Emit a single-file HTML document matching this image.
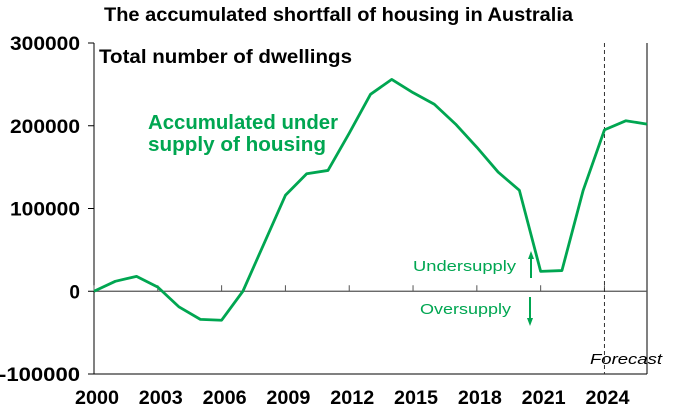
<!DOCTYPE html>
<html><head><meta charset="utf-8"><style>
body{margin:0;background:#fff;}
svg{display:block;font-family:"Liberation Sans",Arial,sans-serif;}
</style></head><body>
<svg width="677" height="412" viewBox="0 0 677 412">
<text x="104" y="21" font-size="19" font-weight="bold" fill="#000" textLength="469" lengthAdjust="spacingAndGlyphs">The accumulated shortfall of housing in Australia</text>
<g id="axes"></g>
<g id="marks"></g>
<text x="99" y="63" font-size="19" font-weight="bold" fill="#000" textLength="253" lengthAdjust="spacingAndGlyphs">Total number of dwellings</text>
<text x="148" y="129" font-size="20" font-weight="bold" fill="#00a651" textLength="190" lengthAdjust="spacingAndGlyphs">Accumulated under</text>
<text x="148" y="151" font-size="20" font-weight="bold" fill="#00a651" textLength="178" lengthAdjust="spacingAndGlyphs">supply of housing</text>
<text x="413" y="271" font-size="15" fill="#00a651" textLength="103" lengthAdjust="spacingAndGlyphs">Undersupply</text>
<text x="420" y="314" font-size="15" fill="#00a651" textLength="91" lengthAdjust="spacingAndGlyphs">Oversupply</text>
<g><line x1="531" y1="278" x2="531" y2="256" stroke="#00a651" stroke-width="2"/><path d="M528,259 L531,251 L534,259Z" fill="#00a651"/></g>
<g><line x1="530" y1="297" x2="530" y2="320" stroke="#00a651" stroke-width="2"/><path d="M527,318 L530,326 L533,318Z" fill="#00a651"/></g>
<text x="590" y="364" font-size="15" font-style="italic" fill="#000" textLength="72" lengthAdjust="spacingAndGlyphs">Forecast</text>
</svg>
<script>
const years=[2000,2001,2002,2003,2004,2005,2006,2007,2008,2009,2010,2011,2012,2013,2014,2015,2016,2017,2018,2019,2020,2021,2022,2023,2024,2025,2026];
const shortfall=[0,12000,18000,5000,-19000,-34000,-35000,0,58000,116000,142000,146000,191000,238000,256000,240000,226000,202000,174000,144000,122000,24000,25000,122000,195000,206000,202000];
const yTicks=[300000,200000,100000,0,-100000];
const xTickYears=[2000,2003,2006,2009,2012,2015,2018,2021,2024];
const forecastYear=2024;
const NS='http://www.w3.org/2000/svg';
const X0=94,X1=647,Y0=43,Y1=374,xmin=2000,xmax=2026,ymin=-100000,ymax=300000;
const xs=v=>X0+(v-xmin)/(xmax-xmin)*(X1-X0);
const ys=v=>Y1-(v-ymin)/(ymax-ymin)*(Y1-Y0);
function mk(tag,attrs,parent){const e=document.createElementNS(NS,tag);for(const k in attrs)e.setAttribute(k,attrs[k]);parent.appendChild(e);return e;}
const ax=document.getElementById('axes'),mg=document.getElementById('marks');
let l=mk('line',{x1:X0,y1:Y0,x2:X0,y2:Y1,stroke:'#000','stroke-width':1},ax);


l=mk('line',{x1:X0,y1:Y1,x2:X1,y2:Y1,stroke:'#000','stroke-width':1},ax);


l=mk('line',{x1:X1,y1:Y0,x2:X1,y2:Y1,stroke:'#000','stroke-width':1},ax);


l=mk('line',{x1:X0,y1:ys(0),x2:X1,y2:ys(0),stroke:'#555','stroke-width':1.2},ax);


yTicks.forEach(v=>{
 const tk=mk('line',{x1:X0-6,y1:ys(v),x2:X0,y2:ys(v),stroke:'#000','stroke-width':1},ax);
 
 
 const s=String(v);
 const attrs={x:X0-14,y:ys(v)+7,'text-anchor':'end','font-size':19,'font-weight':'bold'};
 if(s.length>1){attrs.textLength=s.length*11+4;attrs.lengthAdjust='spacingAndGlyphs';}
 const t=mk('text',attrs,ax);
 t.textContent=s;
 
 
});
xTickYears.forEach(v=>{
 const tk=mk('line',{x1:xs(v),y1:ys(0),x2:xs(v),y2:ys(0)-6,stroke:'#555','stroke-width':1},ax);
 
 
 const t=mk('text',{x:xs(v)+3,y:404,'text-anchor':'middle','font-size':19,'font-weight':'bold',textLength:44,lengthAdjust:'spacingAndGlyphs'},ax);
 t.textContent=v;
 
 
});
const fl=mk('line',{x1:xs(forecastYear),y1:Y0,x2:xs(forecastYear),y2:Y1,stroke:'#333','stroke-width':1,'stroke-dasharray':'4,3'},mg);


const p=mk('polyline',{points:years.map((y,i)=>xs(y)+','+ys(shortfall[i])).join(' '),fill:'none',stroke:'#00a651','stroke-width':2.8,'stroke-linejoin':'round'},mg);


</script>
</body></html>
